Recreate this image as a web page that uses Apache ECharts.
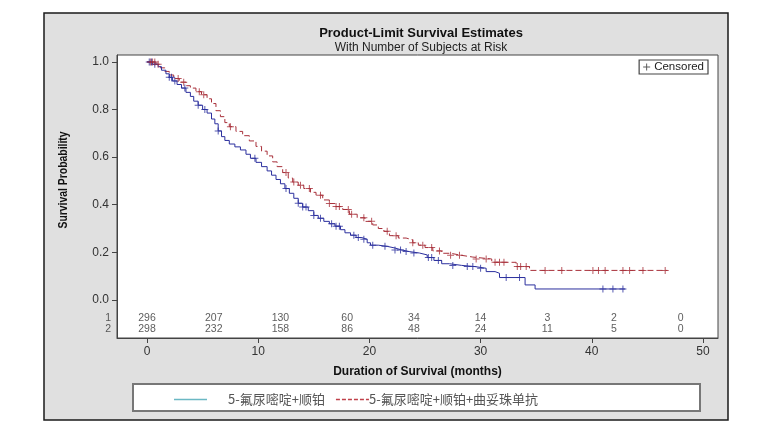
<!DOCTYPE html>
<html>
<head>
<meta charset="utf-8">
<script src="https://cdn.jsdelivr.net/npm/echarts@6/dist/echarts.min.js"></script>
<style>
html,body{margin:0;padding:0;background:#fff;}
#chart{width:780px;height:447px;}
</style>
</head>
<body>
<div id="chart"></div>
<script>
// ---- data ----
const seriesNames = ['5-氟尿嘧啶+顺铂', '5-氟尿嘧啶+顺铂+曲妥珠单抗'];
const xTicks = [0, 10, 20, 30, 40, 50];
const yTicks = [0, 0.2, 0.4, 0.6, 0.8, 1.0];

// group 1 (5-FU + cisplatin) step times and survival
const t1 = [0, 0.5, 1.0, 1.3, 1.7, 2.0, 2.3, 2.7, 3.1, 3.5, 3.9, 4.2, 4.6, 5.0, 5.4, 5.8, 6.1, 6.4, 6.7, 7.0, 7.4, 7.9, 8.4, 8.9, 9.3, 9.8, 10.3, 10.8, 11.2, 11.6, 12.0, 12.4, 12.8, 13.2, 13.6, 14.0, 14.5, 15.0, 15.4, 15.9, 16.4, 16.9, 17.4, 17.8, 18.3, 18.8, 19.3, 19.8, 20.1, 20.8, 21.6, 22.3, 22.9, 23.6, 24.5, 25.2, 25.8, 26.5, 27.2, 28.3, 29.5, 30.5, 31.3, 31.7, 34.0, 34.9];
const s1 = [1.0, 0.99, 0.98, 0.965, 0.95, 0.935, 0.92, 0.905, 0.89, 0.872, 0.855, 0.835, 0.818, 0.80, 0.785, 0.76, 0.74, 0.71, 0.686, 0.67, 0.655, 0.643, 0.63, 0.612, 0.595, 0.578, 0.56, 0.542, 0.524, 0.506, 0.488, 0.468, 0.448, 0.427, 0.406, 0.39, 0.375, 0.355, 0.343, 0.33, 0.32, 0.31, 0.295, 0.282, 0.272, 0.262, 0.255, 0.24, 0.23, 0.225, 0.218, 0.21, 0.203, 0.197, 0.189, 0.178, 0.166, 0.152, 0.145, 0.14, 0.133, 0.119, 0.112, 0.094, 0.063, 0.046];
const end1 = 43.0;
const cens1 = [0.2, 0.4, 0.7, 2.0, 2.2, 2.5, 3.4, 4.6, 5.2, 6.4, 9.7, 12.5, 13.6, 14.0, 14.3, 15.0, 15.6, 16.6, 17.0, 17.3, 18.6, 19.0, 19.5, 20.3, 21.4, 22.3, 22.8, 23.3, 24.0, 25.3, 25.6, 26.2, 27.5, 28.8, 29.3, 30.0, 32.3, 33.5, 41.0, 41.9, 42.8];

// group 2 (5-FU + cisplatin + trastuzumab)
const t2 = [0, 0.8, 1.2, 1.6, 2.0, 2.4, 2.9, 3.5, 3.9, 4.4, 4.9, 5.4, 5.8, 6.2, 6.6, 7.0, 7.4, 8.0, 8.6, 9.2, 9.8, 10.3, 10.8, 11.3, 11.7, 12.2, 12.7, 13.1, 13.6, 14.1, 14.7, 15.2, 15.8, 16.4, 16.9, 17.6, 18.2, 18.9, 19.6, 20.3, 20.8, 21.3, 21.8, 22.6, 23.3, 23.9, 24.4, 25.0, 25.7, 26.5, 27.3, 28.2, 29.3, 31.0, 33.2, 34.4];
const s2 = [1.0, 0.99, 0.975, 0.96, 0.945, 0.93, 0.915, 0.90, 0.89, 0.875, 0.862, 0.845, 0.825, 0.795, 0.77, 0.745, 0.728, 0.708, 0.69, 0.668, 0.645, 0.625, 0.605, 0.58, 0.56, 0.535, 0.512, 0.495, 0.482, 0.468, 0.452, 0.44, 0.42, 0.405, 0.392, 0.38, 0.36, 0.345, 0.33, 0.315, 0.30, 0.288, 0.27, 0.26, 0.252, 0.24, 0.23, 0.22, 0.206, 0.196, 0.188, 0.18, 0.172, 0.158, 0.14, 0.124];
const end2 = 46.8;
const cens2 = [0.3, 0.5, 0.7, 1.0, 2.8, 3.3, 4.7, 5.1, 7.5, 12.5, 13.2, 13.8, 14.6, 15.6, 16.4, 17.0, 17.3, 18.1, 18.4, 19.5, 20.2, 21.6, 22.4, 23.9, 24.8, 25.6, 26.3, 27.3, 28.1, 29.6, 30.5, 31.3, 31.7, 32.1, 33.3, 33.6, 34.1, 35.8, 37.3, 40.1, 40.6, 41.2, 42.8, 43.4, 44.6, 46.6];

// numbers at risk
const riskTimes = [0, 6, 12, 18, 24, 30, 36, 42, 48];
const risk1 = [296, 207, 130, 60, 34, 14, 3, 2, 0];
const risk2 = [298, 232, 158, 86, 48, 24, 11, 5, 0];

// ---- build ----
function stepData(t, s, end) {
  const d = t.map((v, i) => [v, s[i]]);
  d.push([end, s[s.length - 1]]);
  return d;
}
function valueAt(t, s, x) {
  let v = s[0];
  for (let i = 0; i < t.length; i++) { if (t[i] <= x) v = s[i]; else break; }
  return v;
}
const plusPath = 'path://M3,0h1v3h3v1h-3v3h-1v-3h-3v-1h3z';
const solidIcon = 'path://M0,0h33v1.4h-33z';
const dashIcon = 'path://M0,0h4v1.4h-4zM6,0h4v1.4h-4zM12,0h4v1.4h-4zM18,0h4v1.4h-4zM24,0h4v1.4h-4zM30,0h3v1.4h-3z';
const blue = '#2b2f9e';
const red = '#a8303a';
const row1Y = -0.0756, row2Y = -0.122;

const chart = echarts.init(document.getElementById('chart'), null, {renderer: 'canvas'});
const font = 'Liberation Sans, Arial, sans-serif';

const option = {
  backgroundColor: '#ffffff',
  animation: false,
  textStyle: {fontFamily: font},
  title: {
    text: 'Product-Limit Survival Estimates',
    subtext: 'With Number of Subjects at Risk',
    left: 416, top: 22, textAlign: 'center', itemGap: 2,
    textStyle: {fontFamily: font, fontSize: 13, fontWeight: 'bold', color: '#111'},
    subtextStyle: {fontFamily: font, fontSize: 12, color: '#222'}
  },
  grid: {
    left: 117, top: 55, right: 62, bottom: 109,
    show: true, backgroundColor: '#ffffff', borderColor: '#444', borderWidth: 1
  },
  xAxis: {
    type: 'value', min: -2.7, max: 51.35,
    axisLine: {show: true, onZero: false, lineStyle: {color: '#444', width: 1}},
    axisTick: {show: true, length: 5, customValues: xTicks, lineStyle: {color: '#444'}},
    axisLabel: {customValues: xTicks, fontSize: 12, color: '#333', margin: 8, fontFamily: font},
    splitLine: {show: false},
    name: 'Duration of Survival (months)', nameLocation: 'middle', nameGap: 28,
    nameTextStyle: {fontFamily: font, fontSize: 12, fontWeight: 'bold', color: '#111'}
  },
  yAxis: {
    type: 'value', min: -0.16, max: 1.029,
    axisLine: {show: true, onZero: false, lineStyle: {color: '#444', width: 1}},
    axisTick: {show: true, length: 5, customValues: yTicks, lineStyle: {color: '#444'}},
    axisLabel: {customValues: yTicks, fontSize: 12, color: '#333', margin: 8, fontFamily: font,
      formatter: v => v.toFixed(1)},
    splitLine: {show: false}
  },
  legend: [
    {
      data: [
        {name: seriesNames[0], icon: solidIcon, itemStyle: {color: '#6bb8c4'},
          textStyle: {padding: [0, 0, 0, 16]}},
        {name: seriesNames[1], icon: dashIcon, itemStyle: {color: '#c0404a'},
          textStyle: {padding: [0, 0, 0, -5]}}
      ],
      left: 169, top: 388, itemWidth: 33, itemHeight: 1.4, itemGap: 11,
      textStyle: {fontFamily: 'Noto Sans CJK SC, sans-serif', fontSize: 13, color: '#555'}
    },
    {
      data: [{name: 'Censored', icon: plusPath, itemStyle: {color: '#333'}}],
      right: 72, top: 60, itemWidth: 7, itemHeight: 7, itemGap: 4,
      padding: [1, 4, 1, 4], borderColor: '#444', borderWidth: 1.2, backgroundColor: '#fff',
      textStyle: {fontFamily: font, fontSize: 11.5, color: '#222', padding: [0, 0, 0, -1]}
    }
  ],
  graphic: [
    {type: 'rect', z: -100, shape: {x: 44, y: 13, width: 684, height: 407},
      style: {fill: '#e0e0e0', stroke: '#1a1a1a', lineWidth: 1.5}},
    {type: 'rect', z: -50, shape: {x: 133, y: 384, width: 567, height: 27},
      style: {fill: '#ffffff', stroke: '#777', lineWidth: 2}},
    {type: 'text', x: 63, y: 180, rotation: Math.PI / 2, scaleX: 0.8,
      style: {text: 'Survival Probability', fill: '#111', align: 'center', verticalAlign: 'middle',
        font: 'bold 13px "Liberation Sans", Arial, sans-serif'}}
  ],
  series: [
    {
      name: seriesNames[0], type: 'line', step: 'end', showSymbol: false, symbol: 'none',
      data: stepData(t1, s1, end1),
      lineStyle: {color: blue, width: 1}, itemStyle: {color: blue}, z: 3
    },
    {
      name: seriesNames[1], type: 'line', step: 'end', showSymbol: false, symbol: 'none',
      data: stepData(t2, s2, end2),
      lineStyle: {color: red, width: 1, type: [6, 3]}, itemStyle: {color: red}, z: 2
    },
    {
      name: 'Censored', type: 'scatter', symbol: plusPath, symbolSize: 7,
      data: cens1.map(c => [c, valueAt(t1, s1, c)]),
      itemStyle: {color: blue}, z: 4
    },
    {
      name: 'Censored', type: 'scatter', symbol: plusPath, symbolSize: 7,
      data: cens2.map(c => [c, valueAt(t2, s2, c)]),
      itemStyle: {color: red}, z: 4
    },
    {
      name: 'risk1', type: 'scatter', symbolSize: 0, silent: true,
      data: riskTimes.map((t, i) => [t, row1Y, risk1[i]]),
      label: {show: true, position: 'inside', formatter: p => String(p.value[2]), fontSize: 10.5, color: '#333', fontFamily: font}
    },
    {
      name: 'risk2', type: 'scatter', symbolSize: 0, silent: true,
      data: riskTimes.map((t, i) => [t, row2Y, risk2[i]]),
      label: {show: true, position: 'inside', formatter: p => String(p.value[2]), fontSize: 10.5, color: '#333', fontFamily: font}
    },
    {
      name: 'rowLabels', type: 'scatter', symbolSize: 0, silent: true, clip: false,
      data: [[-2.7, row1Y, '1'], [-2.7, row2Y, '2']],
      label: {show: true, position: 'left', distance: 6, formatter: p => p.value[2], fontSize: 10.5, color: '#333', fontFamily: font}
    }
  ]
};
chart.setOption(option);
</script>
</body>
</html>
